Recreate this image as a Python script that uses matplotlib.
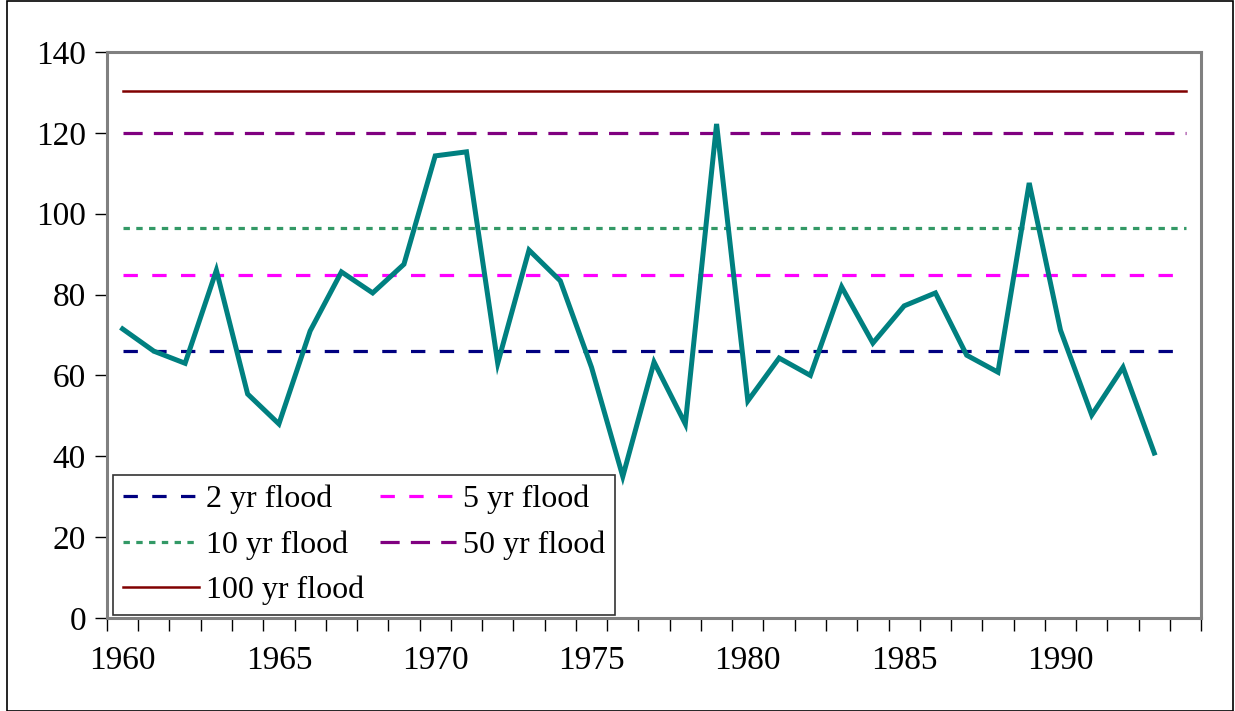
import numpy as np
import matplotlib.pyplot as plt
from matplotlib.patches import Rectangle

# annual peak flows
years = list(range(1960, 1994))
flow = [71.5, 66, 63, 86, 55.4, 48, 71, 85.6, 80.4, 87.5,
        114.3, 115.3, 63, 91, 83.4, 62, 35, 63.3, 48, 122.2,
        53.7, 64.3, 60, 81.9, 68, 77.2, 80.4, 65, 60.8, 107.6,
        71.2, 50.2, 62, 40.8]

# flood frequency levels
flood_labels = ['2 yr flood', '5 yr flood', '10 yr flood', '50 yr flood', '100 yr flood']
flood_values = [66, 84.8, 96.5, 120, 130.3]
flood_colors = ['#000080', '#FF00FF', '#339966', '#800080', '#800000']
flood_styles = [(0, (4.5, 4.5)), (0, (4.5, 4.5)), (0, (2, 2)), (0, (6, 3.5)), '-']
flood_widths = [2.3, 2.3, 2.3, 2.3, 1.8]

line_years = list(range(1960, 1995))

plt.rcParams['font.family'] = ['Liberation Serif', 'DejaVu Serif']

fig = plt.figure(figsize=(12.35, 7.11), dpi=100)
ax = fig.add_axes([0.0866, 0.1308, 0.886, 0.7961])

handles = {}
for lab, val, col, ls, lw in zip(flood_labels, flood_values, flood_colors, flood_styles, flood_widths):
    h, = ax.plot(line_years, [val] * len(line_years), color=col, linestyle=ls, lw=lw, label=lab)
    handles[lab] = h

ax.plot(years, flow, color='#008080', lw=3.6, solid_joinstyle='miter')

ax.set_xlim(1959.5, 1994.5)
ax.set_ylim(0, 140)
ax.set_yticks(np.arange(0, 141, 20))
ax.set_xticks(np.arange(1959.5, 1995, 1), minor=False)
ax.set_xticklabels([])
ax.set_xticks(np.arange(1960, 1991, 5), minor=True)
ax.set_xticklabels([str(y) for y in range(1960, 1991, 5)], minor=True)
ax.tick_params(axis='x', which='major', direction='out', length=9, width=1, color='black')
ax.tick_params(axis='x', which='minor', length=0, pad=20, labelsize=24)
ax.tick_params(axis='y', direction='out', length=9, width=1, color='black', pad=6, labelsize=24)

for s in ax.spines.values():
    s.set_color('#808080')
    s.set_linewidth(2.2)

# row-major order like the original legend
order = ['2 yr flood', '10 yr flood', '100 yr flood', '5 yr flood', '50 yr flood']
leg = ax.legend([handles[k] for k in order], order, loc='upper left',
                bbox_to_anchor=(0.0055, 0.252), ncol=2, frameon=True, fancybox=False,
                edgecolor='black', borderpad=0.3, handlelength=2.4, handletextpad=0.2,
                columnspacing=0.5, labelspacing=0.5, borderaxespad=0.0, fontsize=23)
leg.get_frame().set_linewidth(1.2)

# outer chart border
fig.patches.append(Rectangle((0.006, 0.0), 0.992, 0.999, transform=fig.transFigure,
                             fill=False, edgecolor='black', lw=1.2))

fig.savefig('out.png', dpi=100)
